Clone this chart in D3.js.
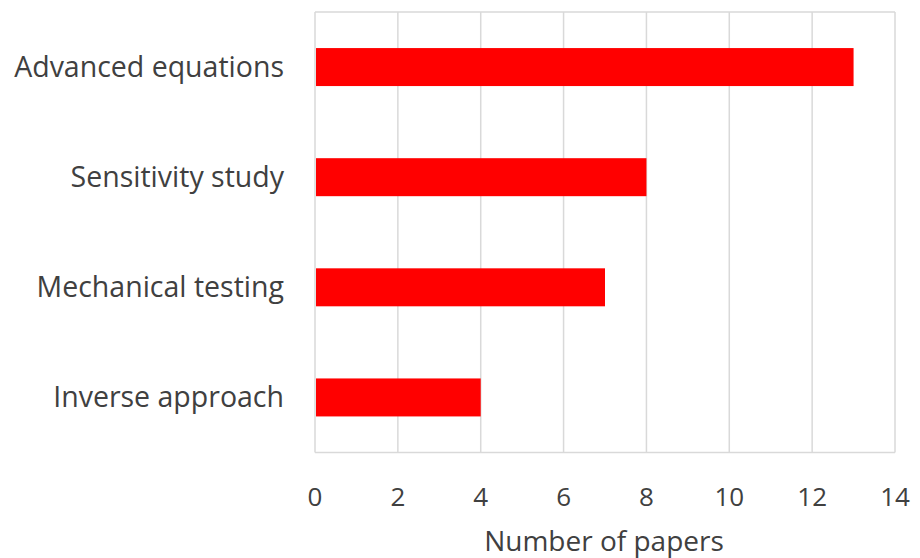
<!DOCTYPE html>
<html><head><meta charset="utf-8">
<script src="https://cdn.jsdelivr.net/npm/d3@7"></script>
<style>body{margin:0;background:#fff}svg{display:block}text{font-family:"Open Sans",sans-serif;fill:#404040}</style>
</head><body><svg id="c" width="920" height="558"></svg>
<script>
const categories = ["Advanced equations","Sensitivity study","Mechanical testing","Inverse approach"];
const values = [13, 8, 7, 4];
const xTicks = [0,2,4,6,8,10,12,14];
const xTitle = "Number of papers";

const svg = d3.select("#c");
const L = 315, R = 895, T = 12, B = 452.5;
const x = d3.scaleLinear().domain([0,14]).range([L,R]);
const y = d3.scaleBand().domain(categories).range([T,B]).paddingInner(0.655).paddingOuter(0.3275);

const g = svg.append("g");
g.selectAll("line.grid").data(xTicks).join("line")
  .attr("x1",d=>x(d)).attr("x2",d=>x(d)).attr("y1",T).attr("y2",B)
  .attr("stroke","#d9d9d9").attr("stroke-width",1.5);
g.append("line").attr("x1",L).attr("x2",R).attr("y1",T).attr("y2",T).attr("stroke","#d9d9d9").attr("stroke-width",1.5);
g.append("line").attr("x1",L).attr("x2",R).attr("y1",B).attr("y2",B).attr("stroke","#d9d9d9").attr("stroke-width",1.5);

g.selectAll("rect.bar").data(categories).join("rect")
  .attr("x",x(0)+1).attr("y",d=>y(d))
  .attr("width",(d,i)=>x(values[i])-x(0)-1).attr("height",y.bandwidth())
  .attr("fill","#ff0000");

g.selectAll("text.tick").data(xTicks).join("text")
  .attr("x",d=>x(d)).attr("y",506).attr("text-anchor","middle")
  .style("font-size","26px").text(d=>d);

g.selectAll("text.cat").data(categories).join("text")
  .attr("x",284).attr("y",d=>y(d)+y.bandwidth()/2+10).attr("text-anchor","end")
  .style("font-size","28.5px").text(d=>d);

svg.append("text").attr("x",604).attr("y",551).attr("text-anchor","middle")
  .style("font-size","28px").text(xTitle);
</script></body></html>
